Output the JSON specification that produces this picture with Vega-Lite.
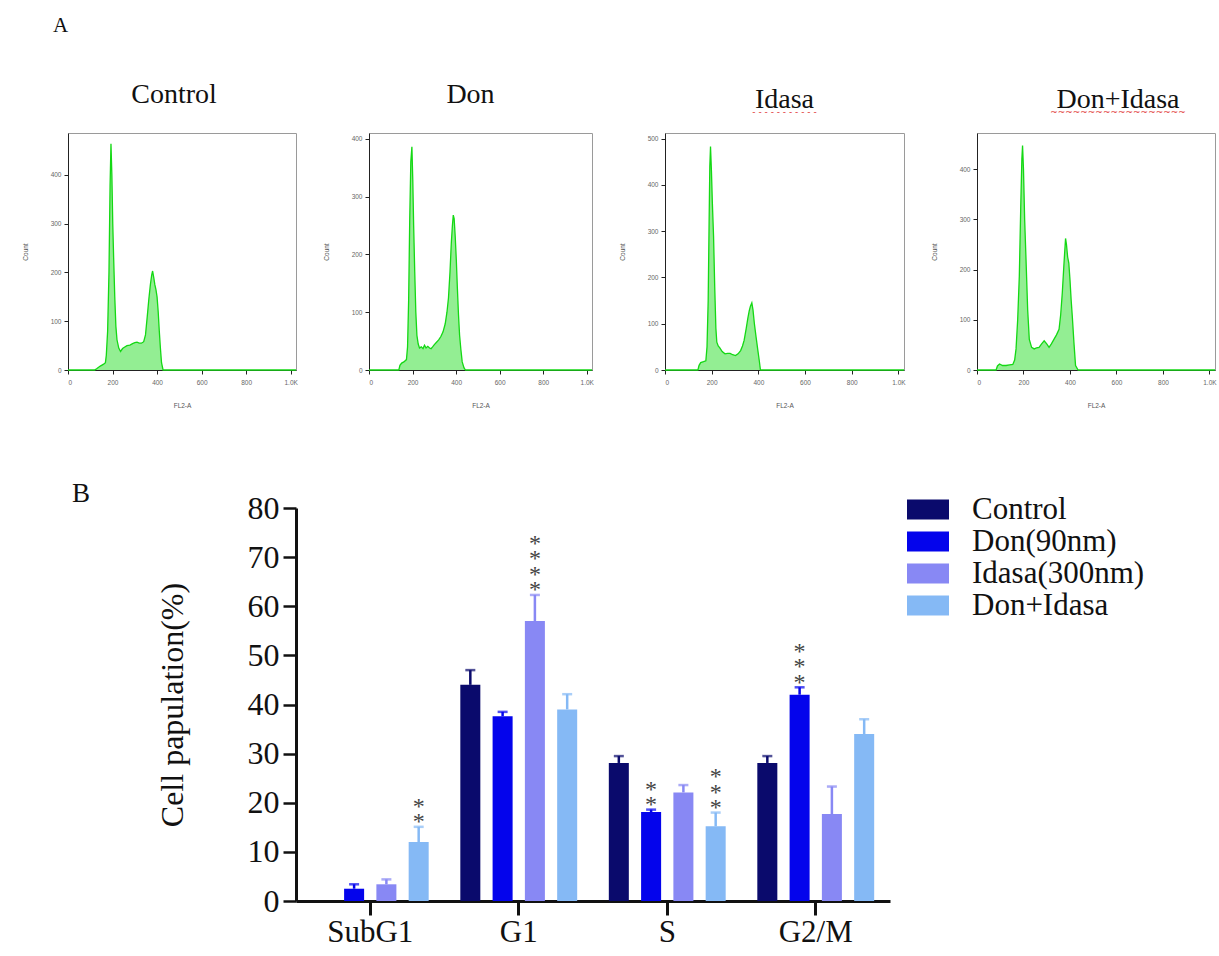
{
  "$schema": "https://vega.github.io/schema/vega-lite/v6.json",
  "background": "white",
  "padding": {"left": 21, "top": 14, "right": 0, "bottom": 0},
  "title": {"text": "A", "anchor": "start", "frame": "group", "font": "Liberation Serif", "fontSize": 21, "fontWeight": "normal", "color": "#111", "baseline": "alphabetic", "dx": -15, "offset": 28},
  "spacing": 70,
  "config": {"view": {"stroke": null}, "font": "Liberation Serif"},
  "vconcat": [
    {
      "bounds": "flush",
      "spacing": 73,
      "hconcat": [
        {
          "width": 228, "height": 237,
          "view": {"stroke": "#9a9a9a", "strokeWidth": 1},
          "title": {"text": "Control", "font": "Liberation Serif", "fontSize": 28, "fontWeight": "normal", "color": "#111", "baseline": "alphabetic", "offset": 2, "dx": -8},
          "data": {"values": [
            {"x":0,"c":0},{"x":120,"c":0},{"x":130,"c":3},{"x":145,"c":8},{"x":160,"c":12},{"x":168,"c":15},{"x":172,"c":30},{"x":178,"c":80},{"x":184,"c":200},{"x":189,"c":380},{"x":193,"c":464},{"x":197,"c":400},{"x":201,"c":300},{"x":205,"c":230},{"x":210,"c":150},{"x":215,"c":90},{"x":220,"c":62},{"x":228,"c":45},{"x":236,"c":38},{"x":245,"c":44},{"x":255,"c":47},{"x":265,"c":50},{"x":278,"c":51},{"x":290,"c":54},{"x":300,"c":56},{"x":310,"c":57},{"x":320,"c":55},{"x":330,"c":55},{"x":340,"c":58},{"x":348,"c":72},{"x":356,"c":110},{"x":363,"c":145},{"x":370,"c":175},{"x":376,"c":195},{"x":380,"c":203},{"x":385,"c":190},{"x":390,"c":175},{"x":395,"c":165},{"x":400,"c":150},{"x":405,"c":120},{"x":410,"c":80},{"x":415,"c":45},{"x":420,"c":15},{"x":427,"c":0},{"x":1024,"c":0}
          ]},
          "mark": {"type": "area", "color": "#93EE93", "opacity": 1, "line": {"color": "#14D814", "strokeWidth": 1.3}},
          "encoding": {
            "x": {"field": "x", "type": "quantitative", "scale": {"domain": [0, 1024], "nice": false, "zero": false},
              "axis": {"values": [0,200,400,600,800,1000], "labelExpr": "datum.value >= 1000 ? '1.0K' : datum.label", "title": "FL2-A", "labelFont": "Liberation Sans", "labelFontSize": 6.5, "labelColor": "#666", "titleFont": "Liberation Sans", "titleFontSize": 6.5, "titleFontWeight": "normal", "titleColor": "#555", "tickSize": 4, "tickColor": "#222", "domainColor": "#222", "labelPadding": 5, "titlePadding": 17, "grid": false}},
            "y": {"field": "c", "type": "quantitative", "scale": {"domain": [0, 486], "nice": false},
              "axis": {"values": [0,100,200,300,400], "title": "Count", "labelFont": "Liberation Sans", "labelFontSize": 6.5, "labelColor": "#666", "titleFont": "Liberation Sans", "titleFontSize": 6.5, "titleFontWeight": "normal", "titleColor": "#555", "tickSize": 4, "tickColor": "#222", "domainColor": "#222", "labelPadding": 3, "minExtent": 22, "maxExtent": 22, "titlePadding": 18, "grid": false}}
          }
        },
        {
          "width": 223, "height": 237,
          "view": {"stroke": "#9a9a9a", "strokeWidth": 1},
          "title": {"text": "Don", "font": "Liberation Serif", "fontSize": 28, "fontWeight": "normal", "color": "#111", "baseline": "alphabetic", "offset": 2, "dx": -10},
          "data": {"values": [
            {"x":0,"c":0},{"x":137,"c":0},{"x":142,"c":8},{"x":150,"c":12},{"x":160,"c":14},{"x":172,"c":18},{"x":177,"c":40},{"x":182,"c":120},{"x":187,"c":260},{"x":192,"c":360},{"x":197,"c":386},{"x":201,"c":330},{"x":205,"c":250},{"x":210,"c":170},{"x":215,"c":100},{"x":220,"c":60},{"x":226,"c":45},{"x":232,"c":38},{"x":240,"c":40},{"x":248,"c":37},{"x":255,"c":43},{"x":262,"c":38},{"x":270,"c":41},{"x":278,"c":38},{"x":285,"c":37},{"x":292,"c":40},{"x":300,"c":44},{"x":310,"c":48},{"x":320,"c":52},{"x":330,"c":58},{"x":340,"c":66},{"x":350,"c":80},{"x":358,"c":100},{"x":365,"c":125},{"x":372,"c":170},{"x":378,"c":220},{"x":383,"c":250},{"x":387,"c":268},{"x":391,"c":262},{"x":396,"c":230},{"x":401,"c":190},{"x":406,"c":140},{"x":411,"c":95},{"x":416,"c":60},{"x":422,"c":35},{"x":428,"c":14},{"x":436,"c":4},{"x":443,"c":0},{"x":1024,"c":0}
          ]},
          "mark": {"type": "area", "color": "#93EE93", "opacity": 1, "line": {"color": "#14D814", "strokeWidth": 1.3}},
          "encoding": {
            "x": {"field": "x", "type": "quantitative", "scale": {"domain": [0, 1024], "nice": false, "zero": false},
              "axis": {"values": [0,200,400,600,800,1000], "labelExpr": "datum.value >= 1000 ? '1.0K' : datum.label", "title": "FL2-A", "labelFont": "Liberation Sans", "labelFontSize": 6.5, "labelColor": "#666", "titleFont": "Liberation Sans", "titleFontSize": 6.5, "titleFontWeight": "normal", "titleColor": "#555", "tickSize": 4, "tickColor": "#222", "domainColor": "#222", "labelPadding": 5, "titlePadding": 17, "grid": false}},
            "y": {"field": "c", "type": "quantitative", "scale": {"domain": [0, 410], "nice": false},
              "axis": {"values": [0,100,200,300,400], "title": "Count", "labelFont": "Liberation Sans", "labelFontSize": 6.5, "labelColor": "#666", "titleFont": "Liberation Sans", "titleFontSize": 6.5, "titleFontWeight": "normal", "titleColor": "#555", "tickSize": 4, "tickColor": "#222", "domainColor": "#222", "labelPadding": 3, "minExtent": 22, "maxExtent": 22, "titlePadding": 18, "grid": false}}
          }
        },
        {
          "width": 239, "height": 237,
          "view": {"stroke": "#9a9a9a", "strokeWidth": 1},
          "title": {"text": "Idasa", "subtitle": "- - - - - - - - - - -", "font": "Liberation Serif", "fontSize": 28, "fontWeight": "normal", "color": "#111", "baseline": "alphabetic", "offset": -6, "dx": 0, "subtitleFont": "DejaVu Sans", "subtitleFontSize": 9, "subtitleColor": "#E03030", "subtitlePadding": -21},
          "data": {"values": [
            {"x":0,"c":0},{"x":141,"c":0},{"x":146,"c":10},{"x":153,"c":16},{"x":165,"c":18},{"x":175,"c":20},{"x":180,"c":50},{"x":185,"c":150},{"x":189,"c":320},{"x":192,"c":440},{"x":195,"c":483},{"x":199,"c":430},{"x":203,"c":360},{"x":208,"c":290},{"x":213,"c":180},{"x":218,"c":90},{"x":222,"c":60},{"x":228,"c":52},{"x":235,"c":48},{"x":245,"c":40},{"x":257,"c":35},{"x":268,"c":36},{"x":279,"c":36},{"x":290,"c":33},{"x":302,"c":31},{"x":313,"c":35},{"x":324,"c":42},{"x":332,"c":52},{"x":339,"c":64},{"x":348,"c":90},{"x":355,"c":112},{"x":361,"c":128},{"x":366,"c":138},{"x":372,"c":145},{"x":377,"c":130},{"x":383,"c":100},{"x":390,"c":72},{"x":398,"c":42},{"x":404,"c":20},{"x":409,"c":0},{"x":1024,"c":0}
          ]},
          "mark": {"type": "area", "color": "#93EE93", "opacity": 1, "line": {"color": "#14D814", "strokeWidth": 1.3}},
          "encoding": {
            "x": {"field": "x", "type": "quantitative", "scale": {"domain": [0, 1024], "nice": false, "zero": false},
              "axis": {"values": [0,200,400,600,800,1000], "labelExpr": "datum.value >= 1000 ? '1.0K' : datum.label", "title": "FL2-A", "labelFont": "Liberation Sans", "labelFontSize": 6.5, "labelColor": "#666", "titleFont": "Liberation Sans", "titleFontSize": 6.5, "titleFontWeight": "normal", "titleColor": "#555", "tickSize": 4, "tickColor": "#222", "domainColor": "#222", "labelPadding": 5, "titlePadding": 17, "grid": false}},
            "y": {"field": "c", "type": "quantitative", "scale": {"domain": [0, 512], "nice": false},
              "axis": {"values": [0,100,200,300,400,500], "title": "Count", "labelFont": "Liberation Sans", "labelFontSize": 6.5, "labelColor": "#666", "titleFont": "Liberation Sans", "titleFontSize": 6.5, "titleFontWeight": "normal", "titleColor": "#555", "tickSize": 4, "tickColor": "#222", "domainColor": "#222", "labelPadding": 3, "minExtent": 22, "maxExtent": 22, "titlePadding": 18, "grid": false}}
          }
        },
        {
          "width": 238, "height": 237,
          "view": {"stroke": "#9a9a9a", "strokeWidth": 1},
          "title": {"text": "Don+Idasa", "subtitle": "~~~~~~~~~~~~~~~~~~", "font": "Liberation Serif", "fontSize": 28, "fontWeight": "normal", "color": "#111", "baseline": "alphabetic", "offset": -6, "dx": 22, "subtitleFont": "DejaVu Sans", "subtitleFontSize": 9, "subtitleColor": "#E03030", "subtitlePadding": -21},
          "data": {"values": [
            {"x":0,"c":0},{"x":82,"c":0},{"x":88,"c":8},{"x":97,"c":12},{"x":110,"c":9},{"x":125,"c":9},{"x":140,"c":10},{"x":154,"c":11},{"x":162,"c":20},{"x":168,"c":42},{"x":175,"c":100},{"x":182,"c":186},{"x":188,"c":320},{"x":193,"c":420},{"x":196,"c":447},{"x":200,"c":400},{"x":205,"c":300},{"x":211,"c":219},{"x":218,"c":120},{"x":225,"c":61},{"x":235,"c":45},{"x":246,"c":42},{"x":256,"c":44},{"x":267,"c":45},{"x":278,"c":52},{"x":289,"c":58},{"x":300,"c":52},{"x":310,"c":45},{"x":320,"c":52},{"x":331,"c":61},{"x":342,"c":70},{"x":353,"c":81},{"x":360,"c":110},{"x":367,"c":154},{"x":374,"c":210},{"x":381,"c":262},{"x":385,"c":250},{"x":390,"c":225},{"x":395,"c":213},{"x":400,"c":180},{"x":405,"c":140},{"x":410,"c":107},{"x":417,"c":55},{"x":424,"c":9},{"x":435,"c":0},{"x":1024,"c":0}
          ]},
          "mark": {"type": "area", "color": "#93EE93", "opacity": 1, "line": {"color": "#14D814", "strokeWidth": 1.3}},
          "encoding": {
            "x": {"field": "x", "type": "quantitative", "scale": {"domain": [0, 1024], "nice": false, "zero": false},
              "axis": {"values": [0,200,400,600,800,1000], "labelExpr": "datum.value >= 1000 ? '1.0K' : datum.label", "title": "FL2-A", "labelFont": "Liberation Sans", "labelFontSize": 6.5, "labelColor": "#666", "titleFont": "Liberation Sans", "titleFontSize": 6.5, "titleFontWeight": "normal", "titleColor": "#555", "tickSize": 4, "tickColor": "#222", "domainColor": "#222", "labelPadding": 5, "titlePadding": 17, "grid": false}},
            "y": {"field": "c", "type": "quantitative", "scale": {"domain": [0, 472], "nice": false},
              "axis": {"values": [0,100,200,300,400], "title": "Count", "labelFont": "Liberation Sans", "labelFontSize": 6.5, "labelColor": "#666", "titleFont": "Liberation Sans", "titleFontSize": 6.5, "titleFontWeight": "normal", "titleColor": "#555", "tickSize": 4, "tickColor": "#222", "domainColor": "#222", "labelPadding": 3, "minExtent": 22, "maxExtent": 22, "titlePadding": 18, "grid": false}}
          }
        }
      ]
    },
    {
      "bounds": "flush",
      "spacing": 10,
      "hconcat": [
        {
          "width": 218, "height": 393,
          "view": {"stroke": null},
          "title": {"text": "B", "anchor": "start", "frame": "group", "font": "Liberation Serif", "fontSize": 27, "fontWeight": "normal", "color": "#111", "baseline": "alphabetic", "offset": -21, "dx": 4},
          "data": {"values": [{}]},
          "mark": {"type": "point", "opacity": 0, "size": 1}
        },
        {
          "width": 594, "height": 393,
          "view": {"stroke": null},
          "data": {"values": [
            {"phase":"SubG1","group":"Control","value":0,"upper":null,"stars":"","n":0},
            {"phase":"SubG1","group":"Don(90nm)","value":2.5,"upper":3.4,"stars":"","n":0},
            {"phase":"SubG1","group":"Idasa(300nm)","value":3.4,"upper":4.4,"stars":"","n":0},
            {"phase":"SubG1","group":"Don+Idasa","value":12.0,"upper":15.1,"stars":"*\n*","n":2},
            {"phase":"G1","group":"Control","value":44.0,"upper":47.0,"stars":"","n":0},
            {"phase":"G1","group":"Don(90nm)","value":37.6,"upper":38.5,"stars":"","n":0},
            {"phase":"G1","group":"Idasa(300nm)","value":57.0,"upper":62.3,"stars":"*\n*\n*\n*","n":4},
            {"phase":"G1","group":"Don+Idasa","value":39.0,"upper":42.1,"stars":"","n":0},
            {"phase":"S","group":"Control","value":28.1,"upper":29.5,"stars":"","n":0},
            {"phase":"S","group":"Don(90nm)","value":18.1,"upper":18.6,"stars":"*\n*","n":2},
            {"phase":"S","group":"Idasa(300nm)","value":22.1,"upper":23.6,"stars":"","n":0},
            {"phase":"S","group":"Don+Idasa","value":15.2,"upper":18.0,"stars":"*\n*\n*","n":3},
            {"phase":"G2/M","group":"Control","value":28.1,"upper":29.5,"stars":"","n":0},
            {"phase":"G2/M","group":"Don(90nm)","value":42.0,"upper":43.5,"stars":"*\n*\n*","n":3},
            {"phase":"G2/M","group":"Idasa(300nm)","value":17.7,"upper":23.3,"stars":"","n":0},
            {"phase":"G2/M","group":"Don+Idasa","value":34.0,"upper":37.0,"stars":"","n":0}
          ]},
          "encoding": {
            "x": {"field": "phase", "type": "nominal", "sort": ["SubG1","G1","S","G2/M"], "scale": {"paddingInner": 0, "paddingOuter": 0},
              "axis": {"title": null, "labelAngle": 0, "labelFont": "Liberation Serif", "labelFontSize": 31, "labelColor": "#111", "tickSize": 14, "tickWidth": 3, "tickColor": "#111", "domainWidth": 3, "domainColor": "#111", "labelPadding": 2}},
            "xOffset": {"field": "group", "type": "nominal", "sort": ["Control","Don(90nm)","Idasa(300nm)","Don+Idasa"], "scale": {"domain": ["Control","Don(90nm)","Idasa(300nm)","Don+Idasa"], "paddingInner": 0.38, "paddingOuter": 0.49}}
          },
          "layer": [
            {
              "mark": {"type": "bar"},
              "encoding": {
                "y": {"field": "value", "type": "quantitative", "scale": {"domain": [0, 80], "nice": false},
                  "axis": {"values": [0,10,20,30,40,50,60,70,80], "title": "Cell papulation(%)", "titleFont": "Liberation Serif", "titleFontSize": 32, "titleFontWeight": "normal", "titleColor": "#111", "titlePadding": 58, "labelFont": "Liberation Serif", "labelFontSize": 32, "labelColor": "#111", "tickSize": 13, "tickWidth": 2.5, "tickColor": "#111", "domainWidth": 3, "domainColor": "#111", "labelPadding": 4, "grid": false}},
                "color": {"field": "group", "type": "nominal", "sort": ["Control","Don(90nm)","Idasa(300nm)","Don+Idasa"],
                  "scale": {"domain": ["Control","Don(90nm)","Idasa(300nm)","Don+Idasa"], "range": ["#0A0A6C","#0404EC","#8888F4","#85B9F5"]},
                  "legend": {"orient": "none", "legendX": 844.5, "legendY": 361, "title": null, "symbolType": "M-2,-0.952L2,-0.952L2,0.952L-2,0.952Z", "symbolSize": 441, "symbolStrokeWidth": 0, "symbolOpacity": 1, "labelFont": "Liberation Serif", "labelFontSize": 31, "labelColor": "#111", "labelOffset": 28.5, "labelLimit": 0, "rowPadding": 0, "padding": 0}}
              }
            },
            {
              "mark": {"type": "rule", "strokeWidth": 2.5},
              "encoding": {
                "y": {"field": "value", "type": "quantitative"},
                "y2": {"field": "upper"},
                "color": {"field": "group", "type": "nominal", "legend": null}
              }
            },
            {
              "mark": {"type": "tick", "thickness": 2.5, "size": 10},
              "encoding": {
                "y": {"field": "upper", "type": "quantitative"},
                "color": {"field": "group", "type": "nominal", "legend": null}
              }
            },
            {
              "transform": [{"filter": "datum.n == 2"}],
              "mark": {"type": "text", "font": "Liberation Serif", "fontSize": 24, "color": "#444", "baseline": "bottom", "lineBreak": "\n", "lineHeight": 15.5, "dy": -8},
              "encoding": {"y": {"field": "upper", "type": "quantitative"}, "text": {"field": "stars"}}
            },
            {
              "transform": [{"filter": "datum.n == 3"}],
              "mark": {"type": "text", "font": "Liberation Serif", "fontSize": 24, "color": "#444", "baseline": "bottom", "lineBreak": "\n", "lineHeight": 15.5, "dy": -23.5},
              "encoding": {"y": {"field": "upper", "type": "quantitative"}, "text": {"field": "stars"}}
            },
            {
              "transform": [{"filter": "datum.n == 4"}],
              "mark": {"type": "text", "font": "Liberation Serif", "fontSize": 24, "color": "#444", "baseline": "bottom", "lineBreak": "\n", "lineHeight": 15.5, "dy": -39},
              "encoding": {"y": {"field": "upper", "type": "quantitative"}, "text": {"field": "stars"}}
            }
          ]
        }
      ]
    }
  ]
}
